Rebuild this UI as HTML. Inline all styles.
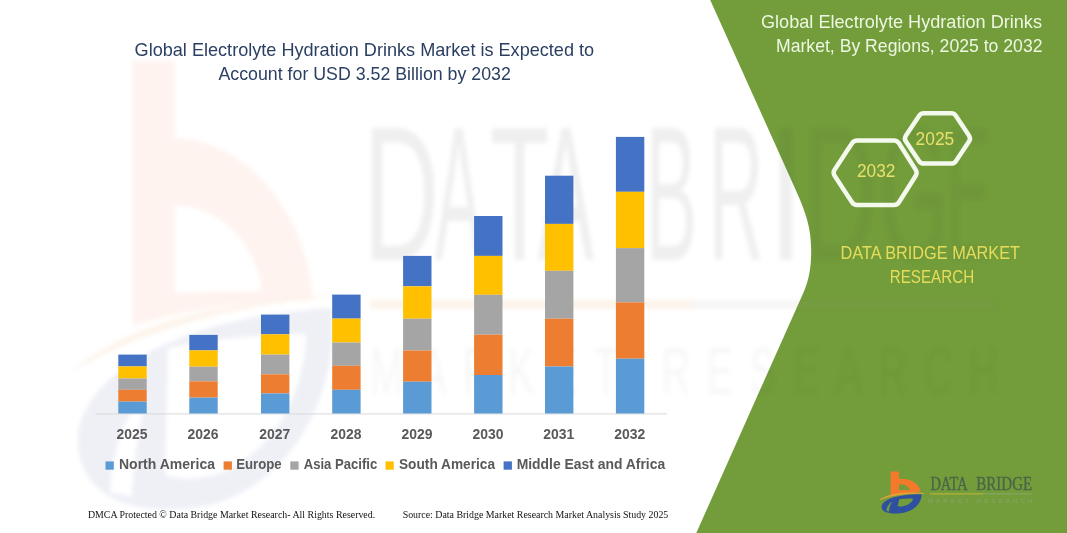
<!DOCTYPE html>
<html><head><meta charset="utf-8"><title>Global Electrolyte Hydration Drinks Market</title>
<style>
html,body{margin:0;padding:0;background:#fff;}
body{width:1067px;height:533px;overflow:hidden;font-family:"Liberation Sans",sans-serif;}
svg{display:block;}
text{font-family:"Liberation Sans",sans-serif;}
.yl{font-weight:bold;font-size:14.4px;fill:#595959;}
.lg{font-weight:bold;font-size:14.2px;fill:#595959;}
.tt{font-size:18.1px;fill:#2B3F63;}
.rt{font-size:17.8px;fill:#EEF7E2;}
.hx{font-size:17.5px;fill:#E9E06C;}
.db{font-size:17.8px;fill:#E6DC5A;}
.ft{font-family:"Liberation Serif",serif;font-size:9.8px;fill:#111;}
.sf{font-family:"Liberation Serif",serif;}
</style></head>
<body>
<svg width="1067" height="533" viewBox="0 0 1067 533">
<defs><filter id="bl" color-interpolation-filters="sRGB" x="-5%" y="-5%" width="110%" height="110%"><feGaussianBlur stdDeviation="2"/></filter></defs>
<rect x="0" y="0" width="1067" height="533" fill="#ffffff"/>

<!-- WATERMARK-LEFT -->
<g id="wm-left" filter="url(#bl)">
<!-- big pale b -->
<path d="M132.7 61 L174.8 61 L174.8 138.6 C240 139 305 205 313 298 C250 300 185 310 132.7 326 Z M174.8 205 C215 205 257 240 262 291 L174.8 293 Z" fill="#F26A35" fill-rule="evenodd" opacity="0.08"/>
<!-- pale swoosh -->
<path d="M70 374 C118 326 230 296 346 296 C232 303 126 336 70 374 Z" fill="#F0903A" opacity="0.10"/>
<!-- pale blue D ring -->
<path d="M78 440 C78 385 160 318 332 308 C340 400 285 495 195 508 C120 516 78 490 78 440 Z M168 348 C215 338 265 334 306 334 C306 400 262 470 200 478 C185 480 172 478 165 474 Z M110 492 C112 445 128 410 148 392 C140 420 134 455 132 497 Z" fill="#3C549A" fill-rule="evenodd" opacity="0.085"/>
</g>

<!-- green panel -->
<path id="panel" d="M710.2 0 L789 175 C802.5 205 811.2 222 811.2 250 C811.2 265 809.7 278.5 803.5 292.5 L696.3 533 L1067 533 L1067 0 Z" fill="#729D3A"/>

<!-- WATERMARK-TEXT -->
<g id="wm-text" fill="#4a4a4a" filter="url(#bl)">
<g opacity="0.085">
<text transform="translate(363.4,260) scale(1.047,1.904)" font-size="100">D</text>
<text transform="translate(434.9,260) scale(0.709,1.904)" font-size="100">A</text>
<text transform="translate(489.9,260) scale(0.972,1.904)" font-size="100">T</text>
<text transform="translate(537.8,260) scale(0.845,1.904)" font-size="100">A</text>
<text transform="translate(645.7,260) scale(0.771,1.904)" font-size="100">B</text>
<text transform="translate(708.8,260) scale(0.759,1.904)" font-size="100">R</text>
<text transform="translate(768.3,260) scale(1.277,1.904)" font-size="100">I</text>
</g>
<g opacity="0.06">
<text transform="translate(803.7,260) scale(1.014,1.904)" font-size="100">D</text>
<text transform="translate(879.6,260) scale(0.888,1.904)" font-size="100">G</text>
<text transform="translate(946.6,260) scale(0.664,1.904)" font-size="100">E</text>
</g>
<rect x="370" y="300" width="323" height="9" fill="#F0903A" opacity="0.10"/>
<rect x="693" y="300" width="305" height="9" fill="#888" opacity="0.08"/>
<text x="370" y="394" font-size="40" opacity="0.045" textLength="628" lengthAdjust="spacing" transform="translate(0,394) scale(1,1.65) translate(0,-394)">MARKET RESEARCH</text>
</g>

<!-- title -->
<text x="134.6" y="56.1" class="tt" textLength="459.5" lengthAdjust="spacingAndGlyphs">Global Electrolyte Hydration Drinks Market is Expected to</text>
<text x="218.4" y="80.1" class="tt" textLength="292.5" lengthAdjust="spacingAndGlyphs">Account for USD 3.52 Billion by 2032</text>

<!-- axis -->
<rect x="96" y="413.4" width="571" height="1" fill="#D9D9D9"/>
<!-- bars -->
<rect x="118.3" y="354.6" width="28.4" height="11.8" fill="#4472C4"/>
<rect x="118.3" y="366.4" width="28.4" height="12.1" fill="#FFC000"/>
<rect x="118.3" y="378.5" width="28.4" height="11.3" fill="#A5A5A5"/>
<rect x="118.3" y="389.8" width="28.4" height="11.8" fill="#ED7D31"/>
<rect x="118.3" y="401.6" width="28.4" height="11.9" fill="#5B9BD5"/>
<text x="116.6" y="438.7" class="yl" textLength="31" lengthAdjust="spacingAndGlyphs">2025</text>
<rect x="189.3" y="334.9" width="28.4" height="15.5" fill="#4472C4"/>
<rect x="189.3" y="350.4" width="28.4" height="16.3" fill="#FFC000"/>
<rect x="189.3" y="366.7" width="28.4" height="14.6" fill="#A5A5A5"/>
<rect x="189.3" y="381.3" width="28.4" height="16.3" fill="#ED7D31"/>
<rect x="189.3" y="397.6" width="28.4" height="15.9" fill="#5B9BD5"/>
<text x="187.6" y="438.7" class="yl" textLength="31" lengthAdjust="spacingAndGlyphs">2026</text>
<rect x="261.0" y="314.6" width="28.4" height="19.7" fill="#4472C4"/>
<rect x="261.0" y="334.3" width="28.4" height="20.3" fill="#FFC000"/>
<rect x="261.0" y="354.6" width="28.4" height="19.7" fill="#A5A5A5"/>
<rect x="261.0" y="374.3" width="28.4" height="19.1" fill="#ED7D31"/>
<rect x="261.0" y="393.4" width="28.4" height="20.1" fill="#5B9BD5"/>
<text x="259.3" y="438.7" class="yl" textLength="31" lengthAdjust="spacingAndGlyphs">2027</text>
<rect x="332.2" y="294.6" width="28.4" height="24.0" fill="#4472C4"/>
<rect x="332.2" y="318.6" width="28.4" height="23.9" fill="#FFC000"/>
<rect x="332.2" y="342.5" width="28.4" height="23.3" fill="#A5A5A5"/>
<rect x="332.2" y="365.8" width="28.4" height="24.0" fill="#ED7D31"/>
<rect x="332.2" y="389.8" width="28.4" height="23.7" fill="#5B9BD5"/>
<text x="330.5" y="438.7" class="yl" textLength="31" lengthAdjust="spacingAndGlyphs">2028</text>
<rect x="403.1" y="255.9" width="28.4" height="30.4" fill="#4472C4"/>
<rect x="403.1" y="286.3" width="28.4" height="32.4" fill="#FFC000"/>
<rect x="403.1" y="318.7" width="28.4" height="31.8" fill="#A5A5A5"/>
<rect x="403.1" y="350.5" width="28.4" height="31.2" fill="#ED7D31"/>
<rect x="403.1" y="381.7" width="28.4" height="31.8" fill="#5B9BD5"/>
<text x="401.4" y="438.7" class="yl" textLength="31" lengthAdjust="spacingAndGlyphs">2029</text>
<rect x="474.1" y="216.0" width="28.4" height="39.9" fill="#4472C4"/>
<rect x="474.1" y="255.9" width="28.4" height="38.9" fill="#FFC000"/>
<rect x="474.1" y="294.8" width="28.4" height="39.9" fill="#A5A5A5"/>
<rect x="474.1" y="334.7" width="28.4" height="40.3" fill="#ED7D31"/>
<rect x="474.1" y="375.0" width="28.4" height="38.5" fill="#5B9BD5"/>
<text x="472.4" y="438.7" class="yl" textLength="31" lengthAdjust="spacingAndGlyphs">2030</text>
<rect x="545.0" y="175.7" width="28.4" height="48.2" fill="#4472C4"/>
<rect x="545.0" y="223.9" width="28.4" height="46.9" fill="#FFC000"/>
<rect x="545.0" y="270.8" width="28.4" height="47.9" fill="#A5A5A5"/>
<rect x="545.0" y="318.7" width="28.4" height="47.8" fill="#ED7D31"/>
<rect x="545.0" y="366.5" width="28.4" height="47.0" fill="#5B9BD5"/>
<text x="543.3" y="438.7" class="yl" textLength="31" lengthAdjust="spacingAndGlyphs">2031</text>
<rect x="615.9" y="136.9" width="28.4" height="54.9" fill="#4472C4"/>
<rect x="615.9" y="191.8" width="28.4" height="56.3" fill="#FFC000"/>
<rect x="615.9" y="248.1" width="28.4" height="54.3" fill="#A5A5A5"/>
<rect x="615.9" y="302.4" width="28.4" height="56.3" fill="#ED7D31"/>
<rect x="615.9" y="358.7" width="28.4" height="54.8" fill="#5B9BD5"/>
<text x="614.2" y="438.7" class="yl" textLength="31" lengthAdjust="spacingAndGlyphs">2032</text>
<!-- legend -->
<rect x="105.5" y="461.4" width="8.3" height="8.3" fill="#5B9BD5"/>
<text x="119.0" y="469.2" class="lg" textLength="96.0" lengthAdjust="spacingAndGlyphs">North America</text>
<rect x="223.6" y="461.4" width="8.3" height="8.3" fill="#ED7D31"/>
<text x="236.2" y="469.2" class="lg" textLength="45.5" lengthAdjust="spacingAndGlyphs">Europe</text>
<rect x="290.3" y="461.4" width="8.3" height="8.3" fill="#A5A5A5"/>
<text x="303.7" y="469.2" class="lg" textLength="73.6" lengthAdjust="spacingAndGlyphs">Asia Pacific</text>
<rect x="385.5" y="461.4" width="8.3" height="8.3" fill="#FFC000"/>
<text x="399.0" y="469.2" class="lg" textLength="96.0" lengthAdjust="spacingAndGlyphs">South America</text>
<rect x="503.6" y="461.4" width="8.3" height="8.3" fill="#4472C4"/>
<text x="516.7" y="469.2" class="lg" textLength="148.5" lengthAdjust="spacingAndGlyphs">Middle East and Africa</text>

<!-- footer -->
<text x="87.9" y="517.7" class="ft" textLength="287.3" lengthAdjust="spacingAndGlyphs">DMCA Protected © Data Bridge Market Research-  All Rights Reserved.</text>
<text x="402.7" y="517.7" class="ft" textLength="265.6" lengthAdjust="spacingAndGlyphs">Source: Data Bridge Market Research  Market Analysis Study 2025</text>

<!-- right title -->
<text x="761" y="28.2" class="rt" textLength="281" lengthAdjust="spacingAndGlyphs">Global Electrolyte Hydration Drinks</text>
<text x="776" y="52.0" class="rt" textLength="266.5" lengthAdjust="spacingAndGlyphs">Market, By Regions, 2025 to 2032</text>

<!-- hexagons -->
<g fill="none" stroke="#F3F9EC" stroke-width="4.5" stroke-linejoin="round">
<path d="M834.77 176.09 Q832.60 172.80 834.76 169.50 L852.02 143.21 Q853.80 140.50 857.04 140.50 L893.89 140.50 Q897.20 140.50 898.97 143.30 L915.57 169.59 Q917.60 172.80 915.57 176.01 L898.97 202.21 Q897.20 205.00 893.90 205.00 L857.03 205.00 Q853.80 205.00 852.02 202.30 Z"/>
<path d="M905.96 141.57 Q903.90 138.50 905.96 135.43 L919.17 115.74 Q920.80 113.30 923.73 113.30 L951.26 113.30 Q954.20 113.30 955.83 115.75 L968.96 135.44 Q971.00 138.50 968.96 141.55 L955.83 161.16 Q954.20 163.60 951.26 163.60 L923.73 163.60 Q920.80 163.60 919.17 161.17 Z"/>
</g>
<text x="857" y="177" class="hx" textLength="38.5" lengthAdjust="spacingAndGlyphs">2032</text>
<text x="915.6" y="144.9" class="hx" textLength="38.6" lengthAdjust="spacingAndGlyphs">2025</text>

<!-- DBMR text -->
<text x="840.6" y="258.9" class="db" textLength="179.4" lengthAdjust="spacingAndGlyphs">DATA BRIDGE MARKET</text>
<text x="889.7" y="283" class="db" textLength="84.5" lengthAdjust="spacingAndGlyphs">RESEARCH</text>

<!-- LOGO -->
<g id="logo">
<!-- orange b -->
<path d="M890.6 471.6 L899 471.6 L899 478.9 C910 478.4 919 483 920.6 491.6 L916 492.6 L890.6 495.2 Z M899 484.2 L899 490.3 L909.8 490 C909 486.2 904.5 483.9 899 484.2 Z" fill="#F4792B" fill-rule="evenodd"/>
<!-- swoosh -->
<path d="M880.2 499.6 C888 494.2 906 491.6 924 493.4 C906 492.9 889 495.6 880.2 499.6 Z" fill="#E8A33A" stroke="#E8A33A" stroke-width="0.7"/>
<!-- blue D -->
<path d="M881.6 507.2 C882 499.6 896 494.3 921.5 494.2 C922 503.5 913 512 900 513.2 C889 514.2 881.8 512 881.6 507.2 Z M899.3 499.3 L897.6 506.3 C903 507.1 910.8 505 913.2 498.7 C908.5 498.4 903.5 498.7 899.3 499.3 Z M886.6 511 C886.6 506.5 889.5 503.3 892.3 501.6 C890.4 504.5 889.2 507.5 889 511.6 Z" fill="#2F4FA0" fill-rule="evenodd"/>
<!-- text -->
<text class="sf" x="930.4" y="490.2" font-size="19.6" fill="#4A6548" stroke="#4A6548" stroke-width="0.35" textLength="37.2" lengthAdjust="spacingAndGlyphs">DATA</text>
<text class="sf" x="976.2" y="490.2" font-size="19.6" fill="#4A6548" stroke="#4A6548" stroke-width="0.35" textLength="56" lengthAdjust="spacingAndGlyphs">BRIDGE</text>
<rect x="929.8" y="493.4" width="53.4" height="1" fill="#C9B437"/>
<rect x="983.2" y="493.4" width="49.5" height="1" fill="#8AA86F"/>
<text x="927.9" y="502.8" font-size="6.2" fill="#86A66D" textLength="104.6" lengthAdjust="spacing" style="font-family:'Liberation Sans',sans-serif">MARKET  RESEARCH</text>
</g>
</svg>
</body></html>
